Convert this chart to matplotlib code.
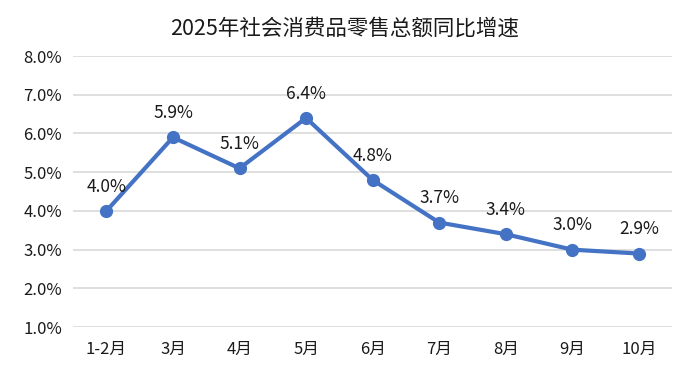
import matplotlib.pyplot as plt
from matplotlib.ticker import FuncFormatter

plt.rcParams['font.family'] = ['Noto Sans CJK SC', 'DejaVu Sans']

months = ['1-2月', '3月', '4月', '5月', '6月', '7月', '8月', '9月', '10月']
growth = [4.0, 5.9, 5.1, 6.4, 4.8, 3.7, 3.4, 3.0, 2.9]

fig = plt.figure(figsize=(6.9, 3.76), dpi=100)
ax = fig.add_axes([0.106, 0.130, 0.868, 0.721])

x = range(len(months))
ax.plot(x, growth, color='#4472C4', linewidth=3, marker='o', markersize=8.5, zorder=3)

for i, v in enumerate(growth):
    ax.annotate(f'{v:.1f}%', (i, v), xytext=(0, 11), textcoords='offset points',
                ha='center', va='bottom', fontsize=12.5, color='#1a1a1a')

ax.set_xlim(-0.5, len(months) - 0.5)
ax.set_ylim(1.0, 8.0)
ax.set_yticks([1, 2, 3, 4, 5, 6, 7, 8])
ax.yaxis.set_major_formatter(FuncFormatter(lambda v, p: f'{v:.1f}%'))
ax.set_xticks(list(x))
ax.set_xticklabels(months)
ax.grid(axis='y', color='#dcdcdc', linewidth=1.3)
ax.set_axisbelow(True)
for s in ax.spines.values():
    s.set_visible(False)
ax.tick_params(axis='both', length=0, labelsize=12, colors='#1a1a1a')
ax.tick_params(axis='x', pad=10)
ax.tick_params(axis='y', pad=8)

fig.text(0.5, 0.925, '2025年社会消费品零售总额同比增速', ha='center', va='center',
         fontsize=15.5, color='#1a1a1a')

fig.savefig('out.png', dpi=100)
